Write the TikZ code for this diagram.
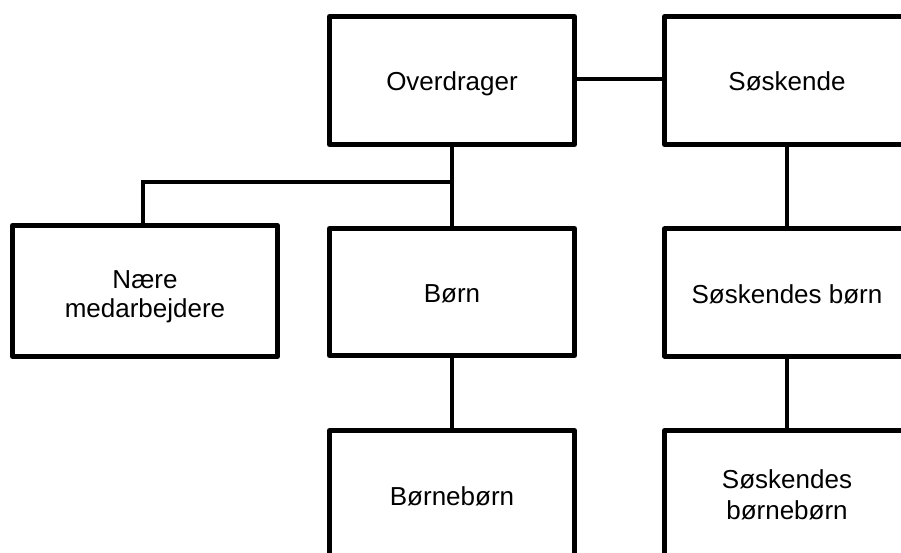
\documentclass[tikz,border=0pt]{standalone}
\usepackage{fontspec}
\setmainfont{Liberation Sans}
\begin{document}
\begin{tikzpicture}[x=1pt,y=-1pt,
  box/.style={draw=black, line width=5pt, line join=round, fill=white,
    minimum width=245pt, minimum height=128pt, inner sep=0pt,
    font=\fontsize{26}{30}\selectfont, text height=21pt, text depth=0pt},
  widebox/.style={box, minimum width=265pt, minimum height=131pt},
  txtline/.style={anchor=base, inner sep=0pt, font=\fontsize{26}{30}\selectfont},
  link/.style={draw=black, line width=4pt}]
\useasboundingbox (0,0) rectangle (901,553);
\clip (0,0) rectangle (901,553);
\fill[white] (0,0) rectangle (901,553);

% family tree boxes
\node[box] (over)  at (452,80.5)  {Overdrager};
\node[box] (sosk)  at (787,80.5)  {Søskende};
\node[widebox] (naere) at (145,291) {};
\node[box, minimum height=127pt] (born)  at (452,292)   {Børn};
\node[box, minimum height=127pt] (soskb) at (787,292.5) {Søskendes børn};
\node[box] (bb)    at (452,494.5) {Børnebørn};
\node[box] (sosbb) at (787,494.5) {};

% two-line captions
\node[txtline] (naere1) at (145,288)   {Nære};
\node[txtline] (naere2) at (145,317.5) {medarbejdere};
\node[txtline] (sosbb1) at (787,488)   {Søskendes};
\node[txtline] (sosbb2) at (787,519)   {børnebørn};

% branch point on the line below Overdrager
\coordinate (branch) at (over.south |- 0,182);

% connectors
\draw[link] ([yshift=1.5pt]over.east) -- ([yshift=1.5pt]sosk.west);
\draw[link] (over.south) -- (born.north);
\draw[link] ([xshift=-2pt]naere.north) |- (branch);
\draw[link] (born.south) -- (bb.north);
\draw[link] (sosk.south) -- (soskb.north);
\draw[link] (soskb.south) -- (sosbb.north);
\end{tikzpicture}
\end{document}
